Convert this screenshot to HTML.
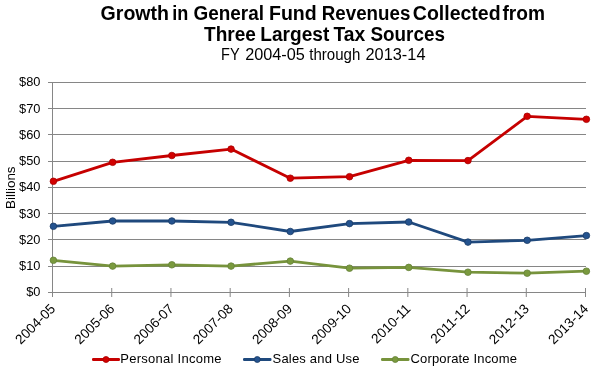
<!DOCTYPE html><html><head><meta charset="utf-8"><style>html,body{margin:0;padding:0;background:#fff;overflow:hidden}svg{display:block;will-change:transform}</style></head><body><svg width="606" height="379" viewBox="0 0 606 379">
<rect width="606" height="379" fill="#fff"/>
<text y="19.6" font-family='"Liberation Sans", sans-serif' font-weight="bold" font-size="19.5" fill="#000"><tspan x="100.6" textLength="68.35" lengthAdjust="spacingAndGlyphs">Growth</tspan><tspan x="172.2" textLength="16.07" lengthAdjust="spacingAndGlyphs">in</tspan><tspan x="193.5" textLength="70.48" lengthAdjust="spacingAndGlyphs">General</tspan><tspan x="269.0" textLength="47.76" lengthAdjust="spacingAndGlyphs">Fund</tspan><tspan x="321.8" textLength="88.56" lengthAdjust="spacingAndGlyphs">Revenues</tspan><tspan x="412.8" textLength="87.78" lengthAdjust="spacingAndGlyphs">Collected</tspan><tspan x="502.4" textLength="42.52" lengthAdjust="spacingAndGlyphs">from</tspan></text>
<text y="40.7" font-family='"Liberation Sans", sans-serif' font-weight="bold" font-size="19.5" fill="#000"><tspan x="204.0" textLength="51.9" lengthAdjust="spacingAndGlyphs">Three</tspan><tspan x="260.3" textLength="69.0" lengthAdjust="spacingAndGlyphs">Largest</tspan><tspan x="333.4" textLength="31.75" lengthAdjust="spacingAndGlyphs">Tax</tspan><tspan x="370.5" textLength="74.4" lengthAdjust="spacingAndGlyphs">Sources</tspan></text>
<text y="59.6" font-family='"Liberation Sans", sans-serif' font-size="16" fill="#000"><tspan x="221.1" textLength="18.6" lengthAdjust="spacingAndGlyphs">FY</tspan><tspan x="245.2" textLength="59.6" lengthAdjust="spacingAndGlyphs">2004-05</tspan><tspan x="309.3" textLength="51.0" lengthAdjust="spacingAndGlyphs">through</tspan><tspan x="365.5" textLength="60.0" lengthAdjust="spacingAndGlyphs">2013-14</tspan></text>
<rect x="48" y="82" width="538.0" height="1" fill="#868686"/>
<rect x="48" y="108" width="538.0" height="1" fill="#868686"/>
<rect x="48" y="134" width="538.0" height="1" fill="#868686"/>
<rect x="48" y="161" width="538.0" height="1" fill="#868686"/>
<rect x="48" y="187" width="538.0" height="1" fill="#868686"/>
<rect x="48" y="213" width="538.0" height="1" fill="#868686"/>
<rect x="48" y="239" width="538.0" height="1" fill="#868686"/>
<rect x="48" y="266" width="538.0" height="1" fill="#868686"/>
<rect x="48" y="292" width="538.0" height="1" fill="#868686"/>
<rect x="52" y="82" width="1" height="214" fill="#868686"/>
<rect x="52.00" y="288" width="1" height="9" fill="#868686"/>
<rect x="111.22" y="288" width="1" height="9" fill="#868686"/>
<rect x="170.44" y="288" width="1" height="9" fill="#868686"/>
<rect x="229.67" y="288" width="1" height="9" fill="#868686"/>
<rect x="288.89" y="288" width="1" height="9" fill="#868686"/>
<rect x="348.11" y="288" width="1" height="9" fill="#868686"/>
<rect x="407.33" y="288" width="1" height="9" fill="#868686"/>
<rect x="466.56" y="288" width="1" height="9" fill="#868686"/>
<rect x="525.78" y="288" width="1" height="9" fill="#868686"/>
<rect x="585.00" y="288" width="1" height="9" fill="#868686"/>
<text x="40.5" y="86.40" text-anchor="end" font-family='"Liberation Sans", sans-serif' font-size="13.5" textLength="21.39" lengthAdjust="spacingAndGlyphs" fill="#000">$80</text>
<text x="40.5" y="112.65" text-anchor="end" font-family='"Liberation Sans", sans-serif' font-size="13.5" textLength="21.39" lengthAdjust="spacingAndGlyphs" fill="#000">$70</text>
<text x="40.5" y="138.90" text-anchor="end" font-family='"Liberation Sans", sans-serif' font-size="13.5" textLength="21.39" lengthAdjust="spacingAndGlyphs" fill="#000">$60</text>
<text x="40.5" y="165.15" text-anchor="end" font-family='"Liberation Sans", sans-serif' font-size="13.5" textLength="21.39" lengthAdjust="spacingAndGlyphs" fill="#000">$50</text>
<text x="40.5" y="191.40" text-anchor="end" font-family='"Liberation Sans", sans-serif' font-size="13.5" textLength="21.39" lengthAdjust="spacingAndGlyphs" fill="#000">$40</text>
<text x="40.5" y="217.65" text-anchor="end" font-family='"Liberation Sans", sans-serif' font-size="13.5" textLength="21.39" lengthAdjust="spacingAndGlyphs" fill="#000">$30</text>
<text x="40.5" y="243.90" text-anchor="end" font-family='"Liberation Sans", sans-serif' font-size="13.5" textLength="21.39" lengthAdjust="spacingAndGlyphs" fill="#000">$20</text>
<text x="40.5" y="270.15" text-anchor="end" font-family='"Liberation Sans", sans-serif' font-size="13.5" textLength="21.39" lengthAdjust="spacingAndGlyphs" fill="#000">$10</text>
<text x="40.5" y="296.40" text-anchor="end" font-family='"Liberation Sans", sans-serif' font-size="13.5" textLength="14.26" lengthAdjust="spacingAndGlyphs" fill="#000">$0</text>
<text transform="translate(14.6,187.7) rotate(-90)" text-anchor="middle" font-family='"Liberation Sans", sans-serif' font-size="13.4" fill="#000">Billions</text>
<text transform="translate(56.10,309.60) rotate(-45)" text-anchor="end" font-family='"Liberation Sans", sans-serif' font-size="13.6" fill="#000">2004-05</text>
<text transform="translate(115.32,309.60) rotate(-45)" text-anchor="end" font-family='"Liberation Sans", sans-serif' font-size="13.6" fill="#000">2005-06</text>
<text transform="translate(174.54,309.60) rotate(-45)" text-anchor="end" font-family='"Liberation Sans", sans-serif' font-size="13.6" fill="#000">2006-07</text>
<text transform="translate(233.77,309.60) rotate(-45)" text-anchor="end" font-family='"Liberation Sans", sans-serif' font-size="13.6" fill="#000">2007-08</text>
<text transform="translate(292.99,309.60) rotate(-45)" text-anchor="end" font-family='"Liberation Sans", sans-serif' font-size="13.6" fill="#000">2008-09</text>
<text transform="translate(352.21,309.60) rotate(-45)" text-anchor="end" font-family='"Liberation Sans", sans-serif' font-size="13.6" fill="#000">2009-10</text>
<text transform="translate(411.43,309.60) rotate(-45)" text-anchor="end" font-family='"Liberation Sans", sans-serif' font-size="13.6" fill="#000">2010-11</text>
<text transform="translate(470.66,309.60) rotate(-45)" text-anchor="end" font-family='"Liberation Sans", sans-serif' font-size="13.6" fill="#000">2011-12</text>
<text transform="translate(529.88,309.60) rotate(-45)" text-anchor="end" font-family='"Liberation Sans", sans-serif' font-size="13.6" fill="#000">2012-13</text>
<text transform="translate(589.10,309.60) rotate(-45)" text-anchor="end" font-family='"Liberation Sans", sans-serif' font-size="13.6" fill="#000">2013-14</text>
<polyline points="53.40,260.30 112.62,266.10 171.84,264.80 231.07,266.10 290.29,261.10 349.51,268.20 408.73,267.40 467.96,272.20 527.18,273.20 586.40,271.20" fill="none" stroke="#77933C" stroke-width="2.8" stroke-linejoin="round" stroke-linecap="round"/>
<circle cx="53.40" cy="260.30" r="3.3000000000000003" fill="#7A9A3E" stroke="#66813A" stroke-width="0.8"/>
<circle cx="112.62" cy="266.10" r="3.3000000000000003" fill="#7A9A3E" stroke="#66813A" stroke-width="0.8"/>
<circle cx="171.84" cy="264.80" r="3.3000000000000003" fill="#7A9A3E" stroke="#66813A" stroke-width="0.8"/>
<circle cx="231.07" cy="266.10" r="3.3000000000000003" fill="#7A9A3E" stroke="#66813A" stroke-width="0.8"/>
<circle cx="290.29" cy="261.10" r="3.3000000000000003" fill="#7A9A3E" stroke="#66813A" stroke-width="0.8"/>
<circle cx="349.51" cy="268.20" r="3.3000000000000003" fill="#7A9A3E" stroke="#66813A" stroke-width="0.8"/>
<circle cx="408.73" cy="267.40" r="3.3000000000000003" fill="#7A9A3E" stroke="#66813A" stroke-width="0.8"/>
<circle cx="467.96" cy="272.20" r="3.3000000000000003" fill="#7A9A3E" stroke="#66813A" stroke-width="0.8"/>
<circle cx="527.18" cy="273.20" r="3.3000000000000003" fill="#7A9A3E" stroke="#66813A" stroke-width="0.8"/>
<circle cx="586.40" cy="271.20" r="3.3000000000000003" fill="#7A9A3E" stroke="#66813A" stroke-width="0.8"/>
<polyline points="53.40,226.30 112.62,221.00 171.84,221.00 231.07,222.30 290.29,231.50 349.51,223.60 408.73,222.00 467.96,242.10 527.18,240.30 586.40,235.60" fill="none" stroke="#1F497D" stroke-width="2.8" stroke-linejoin="round" stroke-linecap="round"/>
<circle cx="53.40" cy="226.30" r="3.3000000000000003" fill="#24538F" stroke="#1A3B66" stroke-width="0.8"/>
<circle cx="112.62" cy="221.00" r="3.3000000000000003" fill="#24538F" stroke="#1A3B66" stroke-width="0.8"/>
<circle cx="171.84" cy="221.00" r="3.3000000000000003" fill="#24538F" stroke="#1A3B66" stroke-width="0.8"/>
<circle cx="231.07" cy="222.30" r="3.3000000000000003" fill="#24538F" stroke="#1A3B66" stroke-width="0.8"/>
<circle cx="290.29" cy="231.50" r="3.3000000000000003" fill="#24538F" stroke="#1A3B66" stroke-width="0.8"/>
<circle cx="349.51" cy="223.60" r="3.3000000000000003" fill="#24538F" stroke="#1A3B66" stroke-width="0.8"/>
<circle cx="408.73" cy="222.00" r="3.3000000000000003" fill="#24538F" stroke="#1A3B66" stroke-width="0.8"/>
<circle cx="467.96" cy="242.10" r="3.3000000000000003" fill="#24538F" stroke="#1A3B66" stroke-width="0.8"/>
<circle cx="527.18" cy="240.30" r="3.3000000000000003" fill="#24538F" stroke="#1A3B66" stroke-width="0.8"/>
<circle cx="586.40" cy="235.60" r="3.3000000000000003" fill="#24538F" stroke="#1A3B66" stroke-width="0.8"/>
<polyline points="53.40,181.30 112.62,162.30 171.84,155.50 231.07,149.10 290.29,178.20 349.51,176.70 408.73,160.30 467.96,160.60 527.18,116.30 586.40,119.30" fill="none" stroke="#C60000" stroke-width="2.8" stroke-linejoin="round" stroke-linecap="round"/>
<circle cx="53.40" cy="181.30" r="3.3000000000000003" fill="#D20000" stroke="#A80000" stroke-width="0.8"/>
<circle cx="112.62" cy="162.30" r="3.3000000000000003" fill="#D20000" stroke="#A80000" stroke-width="0.8"/>
<circle cx="171.84" cy="155.50" r="3.3000000000000003" fill="#D20000" stroke="#A80000" stroke-width="0.8"/>
<circle cx="231.07" cy="149.10" r="3.3000000000000003" fill="#D20000" stroke="#A80000" stroke-width="0.8"/>
<circle cx="290.29" cy="178.20" r="3.3000000000000003" fill="#D20000" stroke="#A80000" stroke-width="0.8"/>
<circle cx="349.51" cy="176.70" r="3.3000000000000003" fill="#D20000" stroke="#A80000" stroke-width="0.8"/>
<circle cx="408.73" cy="160.30" r="3.3000000000000003" fill="#D20000" stroke="#A80000" stroke-width="0.8"/>
<circle cx="467.96" cy="160.60" r="3.3000000000000003" fill="#D20000" stroke="#A80000" stroke-width="0.8"/>
<circle cx="527.18" cy="116.30" r="3.3000000000000003" fill="#D20000" stroke="#A80000" stroke-width="0.8"/>
<circle cx="586.40" cy="119.30" r="3.3000000000000003" fill="#D20000" stroke="#A80000" stroke-width="0.8"/>
<rect x="92" y="358.1" width="28" height="2.8" rx="1.2" fill="#C60000"/>
<circle cx="106.0" cy="359.5" r="3.0" fill="#D20000" stroke="#A80000" stroke-width="0.8"/>
<text x="120.3" y="363.1" font-family='"Liberation Sans", sans-serif' font-size="13" textLength="101.2" lengthAdjust="spacing" fill="#000">Personal Income</text>
<rect x="243" y="358.1" width="28.5" height="2.8" rx="1.2" fill="#1F497D"/>
<circle cx="257.25" cy="359.5" r="3.0" fill="#24538F" stroke="#1A3B66" stroke-width="0.8"/>
<text x="272.6" y="363.1" font-family='"Liberation Sans", sans-serif' font-size="13" textLength="86.8" lengthAdjust="spacing" fill="#000">Sales and Use</text>
<rect x="381" y="358.1" width="28.5" height="2.8" rx="1.2" fill="#77933C"/>
<circle cx="395.25" cy="359.5" r="3.0" fill="#7A9A3E" stroke="#66813A" stroke-width="0.8"/>
<text x="410.5" y="363.1" font-family='"Liberation Sans", sans-serif' font-size="13" textLength="106.4" lengthAdjust="spacing" fill="#000">Corporate Income</text>
</svg></body></html>
